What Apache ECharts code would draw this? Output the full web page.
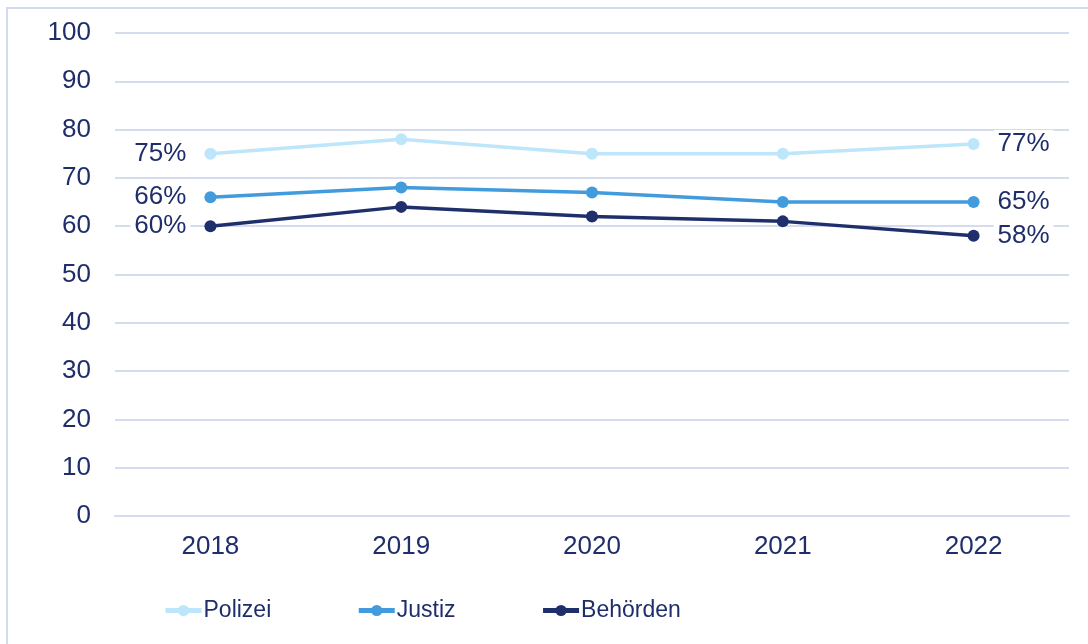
<!DOCTYPE html>
<html>
<head>
<meta charset="utf-8">
<script src="https://cdn.jsdelivr.net/npm/echarts@6/dist/echarts.min.js"></script>
<style>
  html, body { margin: 0; padding: 0; background: #fff; }
  #chart { width: 1088px; height: 644px; }
</style>
</head>
<body>
<div id="chart"></div>
<script>
// Jahre und Werte (in %)
var years = ['2018', '2019', '2020', '2021', '2022'];
var polizei = [75, 78, 75, 75, 77];
var justiz = [66, 68, 67, 65, 65];
var behoerden = [60, 64, 62, 61, 58];

var textColor = '#1f2d6b';
var gridColor = '#d6dcf0';
var font = 'Liberation Sans, Arial, sans-serif';

// nur erster und letzter Punkt bekommen ein Label
function withEndLabels(values) {
  return values.map(function (v, i) {
    var item = { value: v };
    if (i === 0 || i === values.length - 1) {
      item.label = {
        show: true,
        position: i === 0 ? 'left' : 'right',
        distance: 14,
        formatter: '{c}%',
        fontSize: 26,
        color: textColor,
        fontFamily: font,
        backgroundColor: '#fff',
        padding: [1, 4]
      };
    }
    return item;
  });
}

function lineSeries(name, values, color) {
  return {
    name: name,
    type: 'line',
    data: withEndLabels(values),
    symbol: 'circle',
    symbolSize: 12,
    lineStyle: { color: color, width: 3.5 },
    itemStyle: { color: color },
    label: { show: false },
    emphasis: { disabled: true }
  };
}

var chart = echarts.init(document.getElementById('chart'));
chart.setOption({
  animation: false,
  textStyle: { fontFamily: font },
  graphic: [{
    type: 'rect',
    shape: { x: 7, y: 8, width: 1100, height: 700 },
    style: { fill: 'none', stroke: '#d3daef', lineWidth: 2 },
    silent: true
  }],
  grid: { left: 115, right: 19, top: 33, bottom: 128 },
  legend: {
    top: 599,
    left: 163,
    padding: 0,
    itemGap: 85,
    itemWidth: 36,
    itemHeight: 14,
    lineStyle: { width: 5 },
    textStyle: {
      fontSize: 23,
      color: textColor,
      padding: [0, 0, 0, -3]
    },
    data: ['Polizei', 'Justiz', 'Behörden']
  },
  xAxis: {
    type: 'category',
    data: years,
    boundaryGap: true,
    axisLine: { lineStyle: { color: gridColor, width: 2 } },
    axisTick: { show: false },
    axisLabel: { fontSize: 26, color: textColor, margin: 18 }
  },
  yAxis: {
    type: 'value',
    min: 0,
    max: 100,
    interval: 10,
    axisLine: { show: false },
    axisTick: { show: false },
    axisLabel: { fontSize: 26, color: textColor, margin: 24 },
    splitLine: { lineStyle: { color: gridColor, width: 2 } }
  },
  series: [
    lineSeries('Polizei', polizei, '#bde6fa'),
    lineSeries('Justiz', justiz, '#419bdc'),
    lineSeries('Behörden', behoerden, '#1f2f6b')
  ]
});
</script>
</body>
</html>
